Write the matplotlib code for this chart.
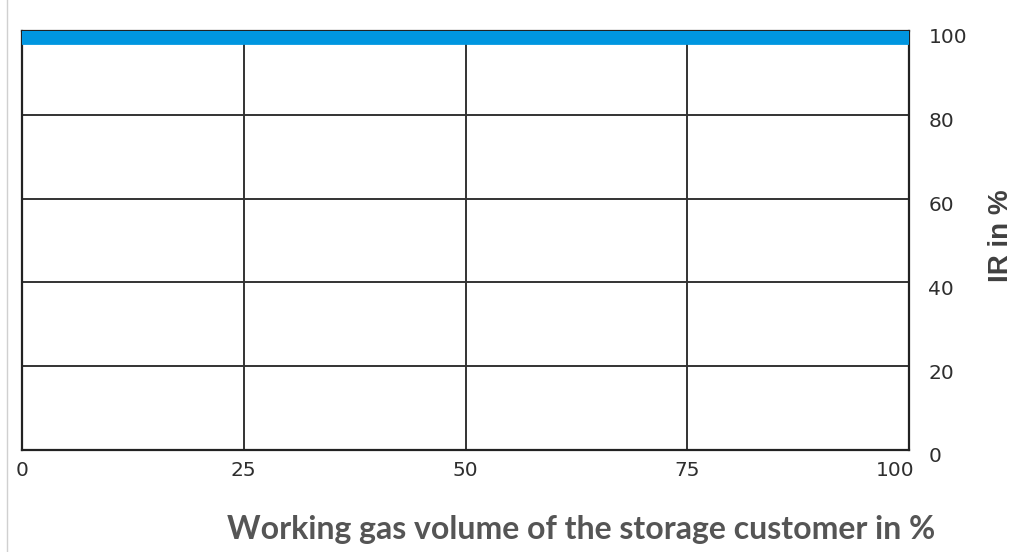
import matplotlib.pyplot as plt
import matplotlib.transforms as mtransforms
from matplotlib.lines import Line2D

plt.rcParams["font.family"] = ["Liberation Sans", "DejaVu Sans"]

# data
volume = [0, 25, 50, 75, 100]
ir = [100, 100, 100, 100, 100]
x_ticks = [0, 25, 50, 75, 100]
y_ticks = [0, 20, 40, 60, 80, 100]

fig = plt.figure(figsize=(10.17, 5.52), dpi=100)
ax = fig.add_axes([22 / 1017, 1 - 450 / 552, 887 / 1017, 419 / 552])

ax.plot(volume, ir, color="#0096e0", linewidth=20, solid_capstyle="butt",
        clip_on=True, zorder=3)

ax.set_xlim(0, 100)
ax.set_ylim(0, 100)
ax.set_xticks(x_ticks)
ax.set_yticks(y_ticks)
ax.grid(True, color="#333333", linewidth=1.4)
ax.set_axisbelow(True)
for s in ax.spines.values():
    s.set_color("#222222")
    s.set_linewidth(1.6)

ax.yaxis.tick_right()
ax.tick_params(axis="both", length=0, labelsize=14.5, labelcolor="#2e2e2e")
ax.tick_params(axis="y", pad=14)
ax.tick_params(axis="x", pad=8)
for lab in ax.get_xticklabels() + ax.get_yticklabels():
    lab.set_family("DejaVu Sans")
shift = mtransforms.ScaledTranslation(0, -5 / 100, fig.dpi_scale_trans)
for lab in ax.get_yticklabels():
    lab.set_transform(lab.get_transform() + shift)
# the last x label sits a bit left of the axis end
xlabs = ax.get_xticklabels()
xlabs[-1].set_transform(xlabs[-1].get_transform()
                        + mtransforms.ScaledTranslation(-14 / 100, 0, fig.dpi_scale_trans))

fig.text(1001 / 1017, 1 - 236 / 552, "IR in %", rotation=90, ha="center",
         va="center", fontsize=20, fontweight="bold", color="#404040")
fig.text(581 / 1017, 1 - 530 / 552, "Working gas volume of the storage customer in %",
         ha="center", va="center", fontsize=23, fontweight="bold",
         color="#555555", family="Lato")

# thin grey border at the left edge of the picture
fig.add_artist(Line2D([7 / 1017, 7 / 1017], [0, 1], color="#d0d0d0", linewidth=1))

fig.savefig("out.png", dpi=100)
